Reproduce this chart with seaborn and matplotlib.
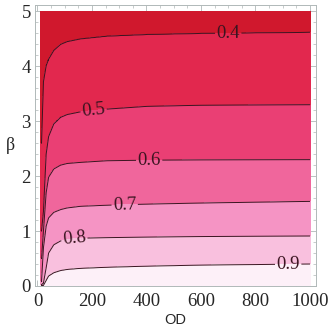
import numpy as np
import seaborn as sns
import matplotlib.pyplot as plt
from matplotlib.ticker import MultipleLocator

# contour levels and where each contour line sits (beta at these OD values)
levels = [0.4, 0.5, 0.6, 0.7, 0.8, 0.9]
od_pts = [15, 22, 32, 41, 60, 85, 109, 158, 256, 403, 602, 1000]
beta_04 = [2.60, 3.72, 4.01, 4.13, 4.29, 4.40, 4.45, 4.50, 4.55, 4.58, 4.60, 4.62]
beta_05 = [1.00, 1.35, 2.40, 2.72, 2.95, 3.07, 3.12, 3.17, 3.22, 3.27, 3.29, 3.30]
beta_06 = [0.50, 1.00, 1.70, 1.98, 2.13, 2.20, 2.23, 2.25, 2.28, 2.29, 2.295, 2.30]
beta_07 = [0.08, 0.70, 1.09, 1.24, 1.34, 1.39, 1.42, 1.45, 1.47, 1.49, 1.51, 1.54]
beta_08 = [0.02, 0.05, 0.33, 0.60, 0.75, 0.82, 0.85, 0.87, 0.88, 0.89, 0.90, 0.91]
beta_09 = [0.005, 0.01, 0.10, 0.18, 0.24, 0.28, 0.30, 0.32, 0.34, 0.36, 0.38, 0.40]

# fill colours, lowest value band first
band_colors = ['#d0182d', '#e2284e', '#ea3f74', '#f0669c', '#f594c4', '#f9c0de', '#fdf0f8']
# where the inline labels go (OD, beta)
label_pos = [(700, 4.6), (205, 3.25), (410, 2.3), (320, 1.5), (135, 0.88), (920, 0.4)]

sns.set_style("ticks")
plt.rcParams['font.family'] = ['Liberation Serif', 'DejaVu Serif']

# build the field so that each level crosses exactly on its read curve
od = np.linspace(13, 1000, 1975)
beta = np.linspace(0, 5, 501)
curves = np.array([np.interp(od, od_pts, b)
                   for b in [beta_09, beta_08, beta_07, beta_06, beta_05, beta_04]])
fp = [1.0, 0.9, 0.8, 0.7, 0.6, 0.5, 0.4, 0.3]
Z = np.empty((len(beta), len(od)))
for j in range(len(od)):
    xp = np.concatenate([[0.0], curves[:, j], [5.0]])
    Z[:, j] = np.interp(beta, xp, fp)

fig, ax = plt.subplots(figsize=(3.32, 3.35), dpi=100)
fig.subplots_adjust(left=0.1054, right=0.951, bottom=0.1463, top=0.985)

bounds = [0.3, 0.4, 0.5, 0.6, 0.7, 0.8, 0.9, 1.0]
ax.contourf(od, beta, Z, levels=bounds, colors=sns.color_palette(band_colors))
cs = ax.contour(od, beta, Z, levels=levels, colors='#3a1420', linewidths=0.7)
ax.clabel(cs, fmt='%.1f', fontsize=13.5, inline=True, inline_spacing=2, manual=label_pos)

ax.set_xlim(-9, 1021)
ax.set_ylim(0, 5.115)
ax.set_xticks(range(0, 1001, 200))
ax.set_yticks(range(0, 6))
ax.xaxis.set_minor_locator(MultipleLocator(50))
ax.yaxis.set_minor_locator(MultipleLocator(0.2))
ax.tick_params(which='both', direction='in', top=True, right=True,
               color='#b0b8b8', labelsize=13.5)
ax.tick_params(which='major', length=4.5, width=0.6)
ax.tick_params(which='minor', length=2.5, width=0.5)
ax.tick_params(axis='x', pad=5)
ax.tick_params(axis='y', pad=3)
for s in ax.spines.values():
    s.set_color('#b0b8b8')
    s.set_linewidth(0.7)

ax.set_xlabel('OD', family=['Liberation Sans'], fontsize=10.5, labelpad=2)
ax.set_ylabel('β', fontsize=13, rotation=0, labelpad=8, va='center')

plt.savefig('out.png', dpi=100)
